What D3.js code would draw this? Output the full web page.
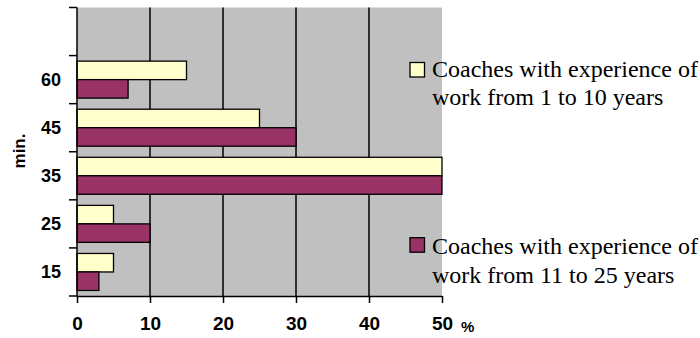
<!DOCTYPE html>
<html><head><meta charset="utf-8">
<script src="https://cdn.jsdelivr.net/npm/d3@7"></script>
<style>body{margin:0;background:#fff}svg{display:block}</style>
</head><body>
<svg id="c" width="700" height="338"></svg>
<script>
const categories = ["", "60", "45", "35", "25", "15"];
const seriesNames = ["Coaches with experience of work from 1 to 10 years",
                     "Coaches with experience of work from 11 to 25 years"];
const series1 = [null, 15, 25, 50, 5, 5];   // 1-10 years
const series2 = [null, 7, 30, 50, 10, 3];   // 11-25 years
const xTicks = [0, 10, 20, 30, 40, 50];
const legendLines = [["Coaches with experience of", "work from 1 to 10 years"],
                     ["Coaches with experience of", "work from 11 to 25 years"]];
const colors = ["#FFFFCC", "#993366"];

const svg = d3.select("#c");
const L = 77, R = 442, T = 7.5, B = 296;
const x = d3.scaleLinear().domain([0, 50]).range([L, R]);
const y = d3.scaleBand().domain(categories).range([T, B]).padding(0);
const y1 = d3.scaleBand().domain([0, 1]).range([0, y.bandwidth()]).paddingInner(0).paddingOuter(0.3);

svg.append("rect").attr("x", L).attr("y", T).attr("width", R - L).attr("height", B - T).attr("fill", "#C0C0C0");

// gridlines
svg.append("g").selectAll("line").data(xTicks.filter(d => d > 0 && d < 50)).join("line")
  .attr("x1", d => x(d)).attr("x2", d => x(d)).attr("y1", T).attr("y2", B)
  .attr("stroke", "#000").attr("stroke-width", 1.5);

// bars
const rows = categories.map((c, i) => ({c, v: [series1[i], series2[i]]}));
const g = svg.append("g");
rows.forEach(r => {
  r.v.forEach((v, s) => {
    if (v == null) return;
    g.append("rect")
      .attr("x", x(0)).attr("y", y(r.c) + y1(s))
      .attr("width", x(v) - x(0)).attr("height", y1.bandwidth())
      .attr("fill", colors[s]).attr("stroke", "#000").attr("stroke-width", 1.3);
  });
});

// x axis
const xa = svg.append("g").attr("transform", `translate(0,${B})`)
  .call(d3.axisBottom(x).tickValues(xTicks).tickSize(7).tickSizeOuter(0).tickPadding(14));
xa.select(".domain").attr("stroke", "#000").attr("stroke-width", 1.5);
xa.selectAll(".tick line").attr("stroke", "#000").attr("stroke-width", 1.5);
xa.selectAll(".tick text").attr("font-family", "Liberation Sans, Arial, sans-serif")
  .attr("font-size", 19).attr("font-weight", "bold").attr("fill", "#000").attr("dy", "0.71em");

// y axis ticks at band boundaries
const boundaries = categories.map(c => y(c)).concat([B]);
svg.append("line").attr("x1", L).attr("x2", L).attr("y1", T).attr("y2", B)
  .attr("stroke", "#000").attr("stroke-width", 1.5);
svg.append("g").selectAll("line").data(boundaries).join("line")
  .attr("x1", L - 8).attr("x2", L).attr("y1", d => d).attr("y2", d => d)
  .attr("stroke", "#000").attr("stroke-width", 1.5);
svg.append("g").selectAll("text").data(categories.filter(c => c)).join("text")
  .attr("x", 61).attr("y", c => y(c) + y.bandwidth() / 2).attr("dy", "0.36em")
  .attr("text-anchor", "end").attr("font-family", "Liberation Sans, Arial, sans-serif")
  .attr("font-size", 18).attr("font-weight", "bold").text(c => c);

// axis titles
svg.append("text").attr("transform", "translate(25,151) rotate(-90)").attr("text-anchor", "middle")
  .attr("font-family", "Liberation Sans, Arial, sans-serif").attr("font-size", 17).attr("font-weight", "bold")
  .text("min.");
svg.append("text").attr("x", 461).attr("y", 331.5)
  .attr("font-family", "Liberation Sans, Arial, sans-serif").attr("font-size", 15).attr("font-weight", "bold")
  .text("%");

// legend
const legTop = [62.5, 237.7];
const legBase = [[77, 105], [254, 282.5]];
legendLines.forEach((lines, i) => {
  svg.append("rect").attr("x", 410).attr("y", legTop[i]).attr("width", 14.5).attr("height", 14.5)
    .attr("fill", colors[i]).attr("stroke", "#000").attr("stroke-width", 1.3);
  lines.forEach((t, j) => {
    svg.append("text").attr("x", 432).attr("y", legBase[i][j])
      .attr("font-family", "Liberation Serif, Times New Roman, serif").attr("font-size", 24)
      .attr("fill", "#000").text(t);
  });
});
</script>
</body></html>
